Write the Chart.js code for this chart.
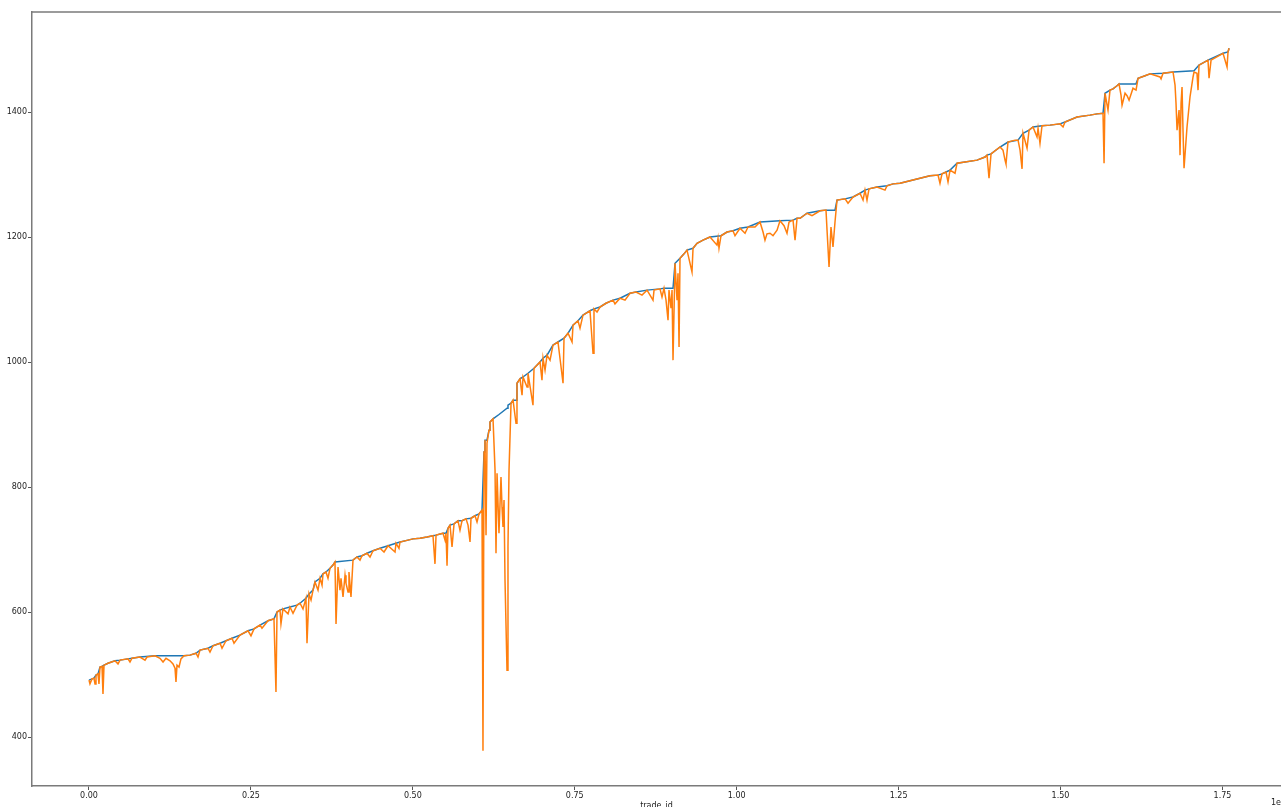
<!DOCTYPE html>
<html>
<head>
<meta charset="utf-8">
<script src="https://cdn.jsdelivr.net/npm/chart.js@4.4.1/dist/chart.umd.min.js"></script>
<style>
  html, body { margin: 0; padding: 0; background: #fff; }
  #c { display: block; }
</style>
</head>
<body>
<canvas id="c" width="1281" height="807"></canvas>
<script>
// ---- data (x = trade_id) ----
const equityIds = [0,15,46,77,93,108,139,154,170,201,216,232,293,401,448,479,602,633,664,787,865,896,1019,1096,1143,1189,1251,1297,1328,1343,1359,1390,1420,1467,1559,1652,1683,1714,1837,1868,1915,2023,2054,2115,2208,2239,2331,2455,2501,2548,2640,2671,2764,2856,2887,2903,2949,2964,2995,3073,3103,3150,3212,3258,3304,3350,3366,3397,3428,3459,3489,3536,3567,3598,3613,3659,3690,3721,3767,3798,3814,3845,3875,3891,3922,3953,3968,3999,4014,4045,4076,4138,4184,4215,4292,4339,4385,4493,4555,4617,4725,4740,4786,4802,4925,5003,5111,5219,5311,5342,5358,5466,5497,5512,5528,5543,5574,5605,5636,5697,5728,5759,5821,5852,5883,5898,5960,5991,6022,6068,6083,6099,6114,6130,6145,6176,6191,6238,6269,6284,6300,6330,6361,6377,6392,6408,6423,6454,6469,6485,6516,6547,6593,6608,6655,6686,6701,6763,6778,6855,6871,6963,6994,7010,7041,7072,7118,7164,7241,7319,7334,7396,7458,7473,7550,7581,7627,7735,7782,7797,7844,7890,7982,8091,8121,8199,8276,8353,8446,8538,8616,8708,8724,8816,8847,8878,8909,8940,8955,8986,9002,9017,9048,9079,9094,9110,9125,9187,9233,9310,9326,9388,9480,9588,9696,9712,9727,9758,9851,9943,9974,10051,10129,10175,10283,10360,10407,10437,10468,10515,10561,10623,10669,10731,10777,10808,10870,10901,10932,10978,11086,11163,11287,11379,11395,11426,11456,11487,11518,11549,11673,11719,11796,11904,11951,11981,12012,12043,12167,12290,12321,12414,12522,12676,12831,12985,13109,13139,13170,13232,13263,13294,13371,13402,13525,13711,13834,13865,13896,13927,14066,14112,14143,14158,14189,14297,14344,14375,14406,14421,14483,14514,14575,14637,14653,14683,14714,14838,14992,15039,15069,15255,15455,15564,15656,15672,15687,15733,15764,15811,15872,15903,15934,15950,15996,16027,16058,16119,16166,16197,16305,16382,16536,16552,16583,16737,16768,16783,16799,16830,16845,16861,16876,16891,16907,16953,16999,17046,17061,17107,17123,17138,17277,17293,17324,17509,17571,17586,17602];
const equityVals = [491,485,493,494,485,499,501,485,512,513,469,515,518,522,517,523,525,520,526,528,523,528,530,526,520,526,522,517,510,488,515,512,525,530,531,534,528,539,542,536,546,550,542,554,558,550,563,570,562,573,579,574,586,589,472,600,603,581,605,597,608,598,611,614,605,622,550,629,619,635,648,635,654,643,661,664,654,670,675,680,581,672,635,654,624,659,646,632,664,624,683,688,683,690,694,688,698,702,696,706,696,710,702,712,715,717,718,720,722,677,723,726,715,726,674,734,739,704,741,746,731,746,749,739,712,750,754,744,757,763,378,856,875,723,870,891,904,909,827,694,822,726,816,768,736,779,651,507,704,827,934,939,902,966,973,947,976,960,982,931,990,1000,971,1006,987,1011,1003,1027,1032,966,1038,1046,1032,1059,1066,1054,1075,1082,1014,1085,1080,1088,1094,1099,1093,1102,1099,1110,1112,1107,1115,1099,1115,1117,1104,1118,1099,1067,1115,1086,1115,1003,1158,1099,1142,1024,1166,1173,1179,1144,1182,1190,1195,1200,1187,1198,1182,1202,1208,1210,1202,1214,1206,1216,1216,1224,1208,1195,1205,1206,1202,1211,1226,1218,1206,1224,1227,1195,1230,1230,1238,1234,1242,1243,1211,1152,1216,1184,1224,1259,1261,1254,1264,1270,1259,1275,1259,1277,1280,1275,1282,1285,1286,1290,1294,1298,1299,1286,1301,1304,1288,1307,1302,1318,1320,1323,1328,1331,1294,1333,1344,1339,1323,1317,1352,1355,1355,1339,1309,1366,1342,1371,1376,1360,1374,1350,1378,1379,1381,1376,1384,1392,1395,1397,1398,1318,1430,1403,1435,1437,1442,1445,1427,1411,1430,1426,1419,1438,1435,1454,1458,1461,1456,1453,1462,1464,1443,1414,1371,1403,1331,1414,1440,1371,1310,1376,1424,1456,1464,1462,1435,1475,1483,1454,1483,1494,1472,1496,1502];

const peakIds = [0,77,108,139,170,201,232,293,401,479,602,664,787,1019,1467,1559,1652,1714,1837,1915,2023,2115,2208,2331,2455,2548,2640,2764,2856,2903,2949,2995,3103,3212,3258,3350,3397,3459,3489,3567,3613,3659,3721,3767,3798,4076,4138,4215,4292,4385,4493,4617,4740,4802,4925,5003,5111,5219,5311,5358,5466,5512,5543,5574,5636,5697,5759,5821,5898,5960,6022,6068,6083,6099,6114,6145,6176,6191,6238,6330,6454,6469,6516,6547,6593,6608,6655,6701,6778,6871,6963,7010,7072,7164,7241,7334,7396,7473,7550,7627,7735,7797,7890,7982,8091,8199,8353,8446,8616,8816,8878,9017,9048,9125,9187,9233,9326,9388,9480,9588,9758,9851,9943,10051,10175,10360,10669,10870,10932,10978,11086,11287,11379,11518,11549,11673,11796,11904,11981,12043,12167,12321,12414,12522,12676,12831,12985,13109,13170,13232,13294,13402,13525,13711,13834,13865,13927,14066,14189,14344,14421,14514,14575,14714,14838,14992,15069,15255,15455,15564,15656,15687,15764,15811,15872,15903,16166,16197,16305,16382,16583,16737,17061,17138,17277,17509,17586,17602];
const peakVals = [491,494,499,501,512,513,515,518,522,523,525,526,528,530,530,531,534,539,542,546,550,554,558,563,570,573,579,586,589,600,603,605,608,611,614,622,629,635,648,654,661,664,670,675,680,683,688,690,694,698,702,706,710,712,715,717,718,720,722,723,726,726,734,739,741,746,746,749,750,754,757,763,763,856,875,875,891,904,909,916,926,931,934,939,939,966,973,976,982,990,1000,1006,1011,1027,1032,1038,1046,1059,1066,1075,1082,1085,1088,1094,1099,1102,1110,1112,1115,1117,1118,1118,1158,1166,1173,1179,1182,1190,1195,1200,1202,1208,1210,1214,1216,1224,1226,1227,1230,1230,1238,1242,1243,1243,1259,1261,1264,1270,1275,1277,1280,1282,1285,1286,1290,1294,1298,1299,1301,1304,1307,1318,1320,1323,1328,1331,1333,1344,1352,1355,1366,1371,1376,1378,1379,1381,1384,1392,1395,1397,1398,1430,1435,1437,1442,1445,1445,1454,1458,1461,1462,1464,1466,1475,1483,1494,1496,1502];

const xTickValues = [0, 2500, 5000, 7500, 10000, 12500, 15000, 17500];
const yTickValues = [400, 600, 800, 1000, 1200, 1400];
const xAxisTitle = 'trade_id';
const xOffsetText = '1e4';

// ---- build ----
const toPts = (xs, ys) => xs.map((x, i) => ({ x: x, y: ys[i] }));
const FONT = { family: '"DejaVu Sans", sans-serif', size: 8 };
const SPINE = '#7a7a7a';

const framePlugin = {
  id: 'frame',
  afterDraw(chart) {
    const { ctx, chartArea, scales } = chart;
    ctx.save();
    ctx.strokeStyle = SPINE;
    ctx.lineWidth = 1.5;
    ctx.beginPath();
    ctx.moveTo(chartArea.left, chartArea.top);
    ctx.lineTo(chartArea.right, chartArea.top);
    ctx.stroke();
    // offset text of the x axis (right aligned at the axes' right edge)
    ctx.fillStyle = '#222';
    ctx.font = '8px "DejaVu Sans", sans-serif';
    ctx.textAlign = 'right';
    ctx.textBaseline = 'middle';
    const rightEdge = scales.x.getPixelForValue(18482);
    ctx.fillText(xOffsetText, rightEdge, 803);
    ctx.restore();
  }
};

new Chart(document.getElementById('c'), {
  type: 'line',
  data: {
    datasets: [
      {
        label: 'equity',
        data: toPts(equityIds, equityVals),
        borderColor: '#ff7f0e',
        borderWidth: 1.5,
        pointRadius: 0,
        tension: 0,
        fill: false
      },
      {
        label: 'running max',
        data: toPts(peakIds, peakVals),
        borderColor: '#1f77b4',
        borderWidth: 1.5,
        pointRadius: 0,
        tension: 0,
        fill: false
      }
    ]
  },
  options: {
    responsive: false,
    animation: false,
    devicePixelRatio: 1,
    layout: { padding: { top: 12, left: 0, right: 0, bottom: 0 } },
    plugins: { legend: { display: false }, tooltip: { enabled: false } },
    scales: {
      x: {
        type: 'linear',
        min: -880,
        max: 18404,
        afterBuildTicks: s => { s.ticks = xTickValues.map(v => ({ value: v })); },
        afterFit: s => { s.height = 21; },
        grid: { display: true, drawOnChartArea: false, drawTicks: true, tickLength: 4, tickColor: '#555', tickWidth: 1 },
        border: { display: true, color: SPINE, width: 1.5 },
        ticks: { autoSkip: false, maxRotation: 0, padding: 1, color: '#222', font: FONT,
                 callback: v => (v / 1e4).toFixed(2) },
        title: { display: true, text: xAxisTitle, color: '#222', font: FONT, padding: { top: 0, bottom: -4 } }
      },
      y: {
        type: 'linear',
        min: 321.6,
        max: 1560,
        afterBuildTicks: s => { s.ticks = yTickValues.map(v => ({ value: v })); },
        afterFit: s => { s.width = 32; },
        grid: { display: true, drawOnChartArea: false, drawTicks: true, tickLength: 4, tickColor: '#555', tickWidth: 1 },
        border: { display: true, color: SPINE, width: 1.5 },
        ticks: { autoSkip: false, padding: 1, color: '#222', font: FONT, callback: v => String(v) }
      }
    }
  },
  plugins: [framePlugin]
});
</script>
</body>
</html>
